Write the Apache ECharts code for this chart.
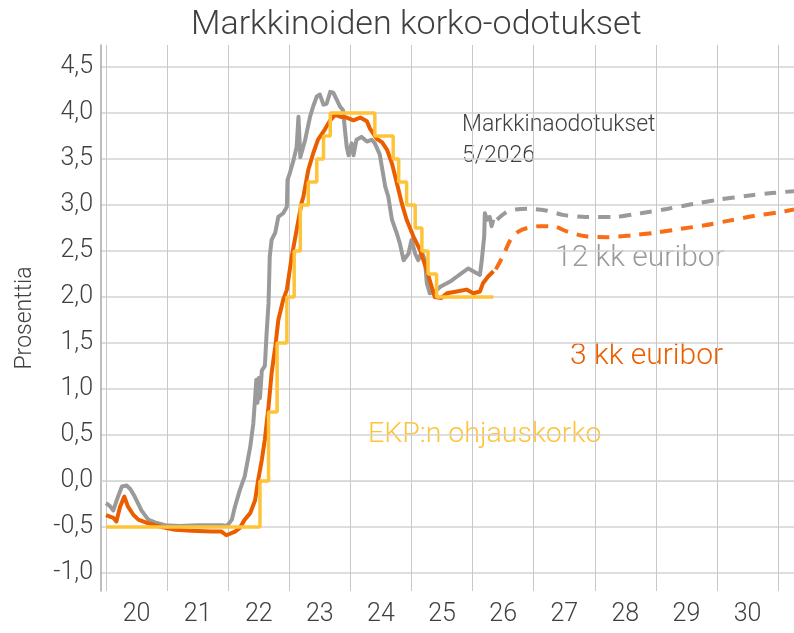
<!DOCTYPE html>
<html>
<head>
<meta charset="utf-8">
<script src="https://cdn.jsdelivr.net/npm/echarts@6/dist/echarts.min.js"></script>
<style>
html,body{margin:0;padding:0;background:#fff;}
#chart{width:794px;height:633px;}
</style>
</head>
<body>
<div id="chart"></div>
<script>
// ---- data ----
const yearLines = [2020,2021,2022,2023,2024,2025,2026,2027,2028,2029,2030,2031];
const yearLabelPos = [2020.5,2021.5,2022.5,2023.5,2024.5,2025.5,2026.5,2027.5,2028.5,2029.5,2030.5];
const yTicks = [-1,-0.5,0,0.5,1,1.5,2,2.5,3,3.5,4,4.5];

const euribor12 = [
[2020.00,-0.24],[2020.06,-0.27],[2020.12,-0.32],[2020.18,-0.2],[2020.26,-0.06],[2020.34,-0.05],[2020.40,-0.09],
[2020.47,-0.17],[2020.58,-0.32],[2020.69,-0.42],[2020.80,-0.45],[2020.97,-0.48],[2021.2,-0.49],[2021.5,-0.48],
[2021.78,-0.48],[2021.81,-0.46],[2021.9,-0.48],[2021.98,-0.49],[2022.06,-0.42],[2022.11,-0.28],[2022.19,-0.1],
[2022.27,0.05],[2022.36,0.37],[2022.41,0.62],[2022.44,0.9],[2022.46,1.1],[2022.48,0.85],[2022.50,1.12],[2022.52,0.9],
[2022.55,1.2],[2022.60,1.25],[2022.63,1.62],[2022.66,1.93],[2022.68,2.44],[2022.71,2.62],[2022.77,2.7],[2022.82,2.87],
[2022.90,2.91],[2022.96,2.98],[2022.97,3.27],[2023.01,3.35],[2023.07,3.49],[2023.12,3.63],[2023.15,3.96],[2023.18,3.52],
[2023.26,3.71],[2023.34,3.96],[2023.39,4.07],[2023.45,4.18],[2023.50,4.2],[2023.56,4.09],[2023.61,4.1],[2023.67,4.23],
[2023.72,4.22],[2023.78,4.14],[2023.83,4.07],[2023.88,4.03],[2023.91,3.82],[2023.94,3.63],[2023.97,3.54],[2024.02,3.67],
[2024.05,3.54],[2024.10,3.71],[2024.18,3.74],[2024.27,3.69],[2024.35,3.71],[2024.40,3.67],[2024.48,3.55],[2024.57,3.2],
[2024.62,3.09],[2024.68,2.84],[2024.76,2.69],[2024.81,2.58],[2024.87,2.4],[2024.95,2.47],[2025.00,2.62],[2025.06,2.47],
[2025.11,2.4],[2025.17,2.49],[2025.22,2.4],[2025.25,2.15],[2025.30,2.04],[2025.38,2.06],[2025.47,2.11],[2025.58,2.15],
[2025.66,2.18],[2025.74,2.22],[2025.82,2.26],[2025.93,2.31],[2026.01,2.28],[2026.12,2.24],[2026.15,2.4],[2026.19,2.66],
[2026.20,2.91],[2026.24,2.84],[2026.28,2.87],[2026.31,2.77],[2026.34,2.84]
];

const euribor3 = [
[2020.00,-0.37],[2020.12,-0.4],[2020.17,-0.44],[2020.23,-0.28],[2020.30,-0.17],[2020.36,-0.28],[2020.45,-0.37],
[2020.53,-0.42],[2020.69,-0.46],[2020.91,-0.5],[2021.13,-0.53],[2021.4,-0.54],[2021.73,-0.55],[2021.89,-0.55],
[2021.97,-0.59],[2022.11,-0.55],[2022.19,-0.51],[2022.27,-0.42],[2022.36,-0.35],[2022.44,-0.21],[2022.49,0.01],
[2022.55,0.23],[2022.60,0.45],[2022.66,0.81],[2022.71,1.17],[2022.77,1.46],[2022.82,1.75],[2022.90,1.97],[2022.96,2.08],
[2023.04,2.44],[2023.12,2.73],[2023.20,3.02],[2023.23,3.09],[2023.31,3.38],[2023.39,3.56],[2023.47,3.71],[2023.58,3.82],
[2023.67,3.92],[2023.75,3.98],[2023.83,3.96],[2023.94,3.95],[2024.05,3.92],[2024.16,3.95],[2024.27,3.91],[2024.32,3.83],
[2024.43,3.72],[2024.52,3.68],[2024.60,3.6],[2024.68,3.45],[2024.76,3.24],[2024.84,3.02],[2024.92,2.84],[2025.03,2.66],
[2025.14,2.51],[2025.25,2.29],[2025.33,2.11],[2025.38,2.0],[2025.49,1.99],[2025.58,2.04],[2025.74,2.06],[2025.90,2.08],
[2026.01,2.04],[2026.12,2.06],[2026.17,2.15],[2026.25,2.22],[2026.34,2.28]
];

const ecbRate = [
[2020.00,-0.5],[2022.52,0.0],[2022.66,0.75],[2022.80,1.5],[2022.96,2.0],[2023.08,2.5],[2023.18,3.0],[2023.31,3.25],
[2023.45,3.5],[2023.56,3.75],[2023.67,4.0],[2024.40,3.75],[2024.70,3.5],[2024.79,3.25],[2024.92,3.0],[2025.06,2.75],
[2025.17,2.5],[2025.27,2.25],[2025.41,2.0],[2026.34,2.0]
];

const euribor12Forecast = [
[2026.40,2.84],[2026.55,2.92],[2026.70,2.95],[2026.90,2.96],[2027.20,2.94],[2027.50,2.89],[2027.85,2.87],[2028.30,2.87],
[2028.75,2.91],[2029.20,2.96],[2029.60,3.01],[2030.05,3.06],[2030.50,3.10],[2030.90,3.13],[2031.26,3.15]
];

const euribor3Forecast = [
[2026.38,2.30],[2026.50,2.45],[2026.62,2.62],[2026.75,2.71],[2026.90,2.75],[2027.10,2.77],[2027.30,2.77],[2027.55,2.71],
[2027.85,2.66],[2028.20,2.65],[2028.60,2.67],[2029.00,2.70],[2029.40,2.74],[2029.80,2.78],[2030.20,2.83],[2030.60,2.88],
[2031.00,2.92],[2031.26,2.95]
];

// ---- chart ----
const FONT = 'Roboto';
const TXT = '#404040';
const GRAY = '#9a9a9a', ORANGE = '#eb5e00', ORANGE_F = '#f86d16', YELLOW = '#ffc33a';

const chart = echarts.init(document.getElementById('chart'), null, {renderer: 'canvas'});
const fmt = v => String(v).replace('.', ',').replace(/^(-?\d+)$/, '$1,0');

chart.setOption({
  animation: false,
  backgroundColor: '#ffffff',
  textStyle: {fontFamily: FONT},
  title: {
    text: 'Markkinoiden korko-odotukset',
    left: 186, top: 3,
    textStyle: {fontFamily: FONT, fontWeight: 300, fontSize: 34, color: TXT}
  },
  grid: {left: 101, right: 0, top: 45, bottom: 42, containLabel: false},
  xAxis: {
    type: 'value', min: 2019.918, max: 2031.26,
    axisLine: {show: true, lineStyle: {color: '#d6d6d6', width: 1}},
    axisTick: {show: false, customValues: yearLines},
    splitLine: {show: true, lineStyle: {color: '#c8c8c8', width: 1}},
    axisLabel: {
      customValues: yearLabelPos, margin: 11,
      formatter: v => String(Math.floor(v)).slice(2),
      fontFamily: FONT, fontWeight: 300, fontSize: 25, color: TXT
    }
  },
  yAxis: {
    type: 'value', min: -1.196, max: 4.739,
    name: 'Prosenttia', nameLocation: 'middle', nameGap: 64, nameRotate: 90,
    nameTextStyle: {fontFamily: FONT, fontWeight: 300, fontSize: 23, color: TXT},
    axisLine: {show: true, lineStyle: {color: '#a8a8a8', width: 1.5}},
    axisTick: {show: false, customValues: yTicks},
    splitLine: {show: true, lineStyle: {color: '#d3d3d3', width: 1.5}},
    axisLabel: {
      customValues: yTicks, margin: 8,
      formatter: v => fmt(Math.round(v * 10) / 10),
      fontFamily: FONT, fontWeight: 300, fontSize: 25, color: TXT
    }
  },
  series: [
    {type: 'line', data: euribor12, showSymbol: false, symbol: 'none', z: 2,
     lineStyle: {color: GRAY, width: 4, join: 'round'}},
    {type: 'line', data: euribor3, showSymbol: false, symbol: 'none', z: 3,
     lineStyle: {color: ORANGE, width: 4, join: 'round'}},
    {type: 'line', data: ecbRate, step: 'end', showSymbol: false, symbol: 'none', z: 4,
     lineStyle: {color: YELLOW, width: 3.5}},
    {type: 'line', data: euribor12Forecast, smooth: 0.3, showSymbol: false, symbol: 'none', z: 2,
     lineStyle: {color: GRAY, width: 4, type: [12, 9]}},
    {type: 'line', data: euribor3Forecast, smooth: 0.3, showSymbol: false, symbol: 'none', z: 3,
     lineStyle: {color: ORANGE_F, width: 4, type: [12, 9]}}
  ],
  graphic: [
    {type: 'text', left: 462, top: 110, style: {text: 'Markkinaodotukset\n5/2026', fill: TXT,
      font: '300 23px ' + FONT, lineHeight: 31}},
    {type: 'text', left: 555, top: 243, style: {text: '12 kk euribor', fill: GRAY, font: '300 30px ' + FONT}},
    {type: 'text', left: 570, top: 341, style: {text: '3 kk euribor', fill: ORANGE, font: '300 30px ' + FONT}},
    {type: 'text', left: 368, top: 420, style: {text: 'EKP:n ohjauskorko', fill: YELLOW, font: '300 28.5px ' + FONT}}
  ]
});
</script>
</body>
</html>
